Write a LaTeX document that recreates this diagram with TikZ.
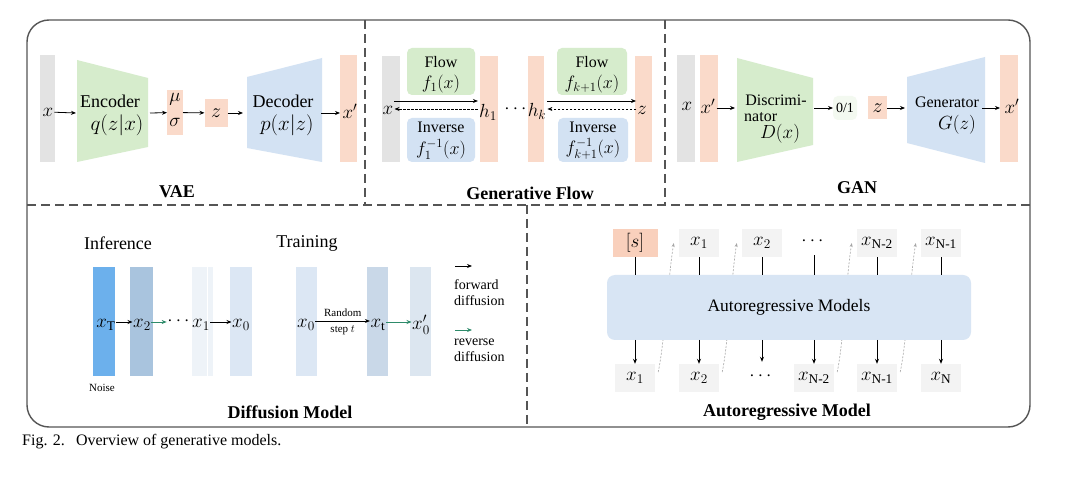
\RequirePackage{fix-cm}
\documentclass[tikz,border=0pt]{standalone}
\usepackage{amsmath}
\usepackage{fontspec}
\setmainfont{Liberation Serif}
\usetikzlibrary{arrows.meta,calc}
\newcommand\fsz[1]{\fontsize{#1}{#1}\selectfont}
\definecolor{cgray}{HTML}{E3E3E3}
\definecolor{corange}{HTML}{FADACA}
\definecolor{csorange}{HTML}{F9D0BC}
\definecolor{cgreen}{HTML}{D6ECCC}
\definecolor{cgfaint}{HTML}{F3F9F0}
\definecolor{cblue}{HTML}{D3E2F3}
\definecolor{cbox}{HTML}{D8E5F4}
\definecolor{ctok}{HTML}{F3F3F3}
\definecolor{cdT}{HTML}{6CB0EC}
\definecolor{cdtwo}{HTML}{A9C4DE}
\definecolor{cdone}{HTML}{EEF3F8}
\definecolor{cdzero}{HTML}{DCE7F4}
\definecolor{cdt}{HTML}{C9D8E8}
\definecolor{cdzp}{HTML}{DCE6F0}
\definecolor{crev}{HTML}{2E8B6A}
\definecolor{cframe}{HTML}{555555}
\begin{document}
\begin{tikzpicture}[x=1pt,y=-1pt,
  arr/.style={-{Stealth[length=5pt,width=4pt]},line width=0.8pt},
  darr/.style={arr,dashed,dash pattern=on 2.5pt off 1.5pt},
  garr/.style={arr,crev},
  barbox/.style={inner sep=0pt,outer sep=0pt,draw=none},
  rbox/.style={inner sep=0pt,outer sep=0pt,draw=none,rounded corners=5pt},
  lab/.style={inner sep=1pt,font=\fsz{19}},
  txt/.style={inner sep=0pt,font=\fsz{18}},
  stxt/.style={inner sep=0pt,font=\fsz{16}},
  ttl/.style={inner sep=1pt,font=\fsz{18}\bfseries},
  tok/.style={inner sep=0pt,minimum width=40,minimum height=28,fill=ctok,font=\fsz{19}},
  sep/.style={cframe,line width=1.3pt,dash pattern=on 9pt off 5pt},
  dcurve/.style={gray!70,line width=0.6pt,dash pattern=on 2pt off 1.5pt,-{Stealth[length=4pt,width=3pt]}}]
\useasboundingbox (0,0) rectangle (1080,486);
\fill[white] (0,0) rectangle (1080,486);

% ---------- frame ----------
\draw[sep] (27,205) -- (1030,205);
\draw[sep] (365,20) -- (365,205);
\draw[sep] (665,20) -- (665,205);
\draw[sep] (527,205) -- (527,427);
\draw[cframe,line width=1.4pt,rounded corners=22pt] (27,20) rectangle (1030,427);

% ---------- VAE ----------
\node[barbox,fill=cgray,minimum width=15,minimum height=107] (vin) at (47.5,109) {};
\node[lab] (vx) at (48,112) {$x$};
\fill[cgreen] (77,60) -- (148,78) -- (148,147) -- (77,162) -- cycle;
\coordinate (encL) at (76,113);
\coordinate (encR) at (150,113);
\node[txt] (enc) at (110,101) {Encoder};
\node[inner sep=0pt,font=\fsz{21}] (encq) at (117,125) {$q(z|x)$};
\node[barbox,fill=corange,minimum width=16,minimum height=45] (ms) at (175,112.5) {};
\node[inner sep=0pt,font=\fsz{19}] (mu) at (175,99) {$\mu$};
\node[inner sep=0pt,font=\fsz{19}] (sig) at (175,122) {$\sigma$};
\node[barbox,fill=corange,minimum width=23,minimum height=28,font=\fsz{20}] (vz) at (216,113) {$z$};
\fill[cblue] (247,77) -- (322,58) -- (322,162) -- (247,148) -- cycle;
\coordinate (decL) at (243,113);
\coordinate (decR) at (321,113);
\node[txt] (dec) at (283,101) {Decoder};
\node[inner sep=0pt,font=\fsz{21}] (decp) at (287,125) {$p(x|z)$};
\node[barbox,fill=corange,minimum width=17,minimum height=107] (vout) at (348.5,109) {};
\node[lab] (vxo) at (350,111) {$x'$};
\draw[arr] (vx) -- (encL);
\draw[arr] (encR) -- (ms);
\draw[arr] (ms) -- (vz);
\draw[arr] (vz) -- (decL);
\draw[arr] (decR) -- (decR -| vout.west);
\node[ttl] (tvae) at (177,192) {VAE};

% ---------- Generative flow ----------
\coordinate (frowa) at (0,101);
\coordinate (frowb) at (0,109);
\node[barbox,fill=cgray,minimum width=18,minimum height=106] (gin) at (391,109) {};
\node[rbox,fill=cgreen,minimum width=68,minimum height=47] (fl1) at (441,71.5) {};
\node[stxt] (fl1a) at (441,62) {Flow};
\node[inner sep=0pt,font=\fsz{18}] (fl1b) at (441,84) {$f_1(x)$};
\node[rbox,fill=cblue,minimum width=68,minimum height=44] (inv1) at (441,140) {};
\node[stxt] (inv1a) at (441,127) {Inverse};
\node[inner sep=0pt,font=\fsz{18}] (inv1b) at (441,149) {$f_1^{-1}(x)$};
\node[barbox,fill=corange,minimum width=18,minimum height=106] (o1) at (489,109) {};
\node[barbox,fill=corange,minimum width=16,minimum height=106] (o2) at (536,109) {};
\node[rbox,fill=cgreen,minimum width=70,minimum height=47] (fl2) at (592,71.5) {};
\node[stxt] (fl2a) at (592,62) {Flow};
\node[inner sep=0pt,font=\fsz{18}] (fl2b) at (592,84) {$f_{k+1}(x)$};
\node[rbox,fill=cblue,minimum width=70,minimum height=44] (inv2) at (593,140) {};
\node[stxt] (inv2a) at (593,127) {Inverse};
\node[inner sep=0pt,font=\fsz{18}] (inv2b) at (593,149) {$f_{k+1}^{-1}(x)$};
\node[barbox,fill=corange,minimum width=17,minimum height=106] (o3) at (643.5,109) {};
\node[lab] (gx) at (388,110) {$x$};
\node[lab] (h1) at (488,112) {$h_1$};
\node[lab] (gdots) at (517,109) {$\cdots$};
\node[lab] (hk) at (537,111) {$h_k$};
\node[lab] (gz) at (642,110) {$z$};
\draw[arr] (gx.east |- frowa) -- (h1.west |- frowa);
\draw[darr] (h1.west |- frowb) -- (gx.east |- frowb);
\draw[arr] (hk.east |- frowa) -- (gz.west |- frowa);
\draw[darr] (gz.west |- frowb) -- (hk.east |- frowb);
\node[ttl] (tflow) at (530,193) {Generative Flow};

% ---------- GAN ----------
\node[barbox,fill=cgray,minimum width=18,minimum height=107] (gang) at (686,109) {};
\node[barbox,fill=corange,minimum width=18,minimum height=107] (gano1) at (709,109) {};
\node[lab] (ganx) at (687,106) {$x$};
\node[lab] (ganxp) at (708,106) {$x'$};
\fill[cgreen] (737,58) -- (813,78) -- (813,145) -- (737,162) -- cycle;
\coordinate (discL) at (735,108);
\coordinate (discR) at (814,108);
\node[stxt] (disa) at (776,100) {Discrimi-};
\node[stxt,anchor=west] (disb) at (744,117) {nator};
\node[inner sep=0pt,font=\fsz{19}] (disc) at (780,134) {$D(x)$};
\node[rbox,fill=cgfaint,minimum width=24,minimum height=24,font=\fsz{14}] (g01) at (845,108) {0/1};
\node[barbox,fill=corange,minimum width=19,minimum height=23,font=\fsz{20}] (ganz) at (877.5,108) {$z$};
\fill[cblue] (907,77) -- (985,57) -- (985,163) -- (907,143) -- cycle;
\coordinate (genL) at (905,108);
\coordinate (genR) at (982,108);
\node[stxt] (gena) at (947,102) {Generator};
\node[inner sep=0pt,font=\fsz{19}] (genb) at (957,125) {$G(z)$};
\node[barbox,fill=corange,minimum width=18,minimum height=107] (gano2) at (1009,109) {};
\node[lab] (ganxo) at (1012,106) {$x'$};
\draw[arr] ([yshift=-2pt]ganxp.east) -- (discL);
\draw[arr] (discR) -- (g01.west);
\draw[arr] (ganz) -- (genL);
\draw[arr] (genR) -- (genR -| gano2.west);
\node[ttl] (tgan) at (857,188) {GAN};

% ---------- Diffusion ----------
\node[txt] (tinf) at (118,243) {Inference};
\node[txt] (ttrain) at (307,243) {Training};
\node[barbox,fill=cdT,minimum width=22,minimum height=109] (dT) at (104,321.5) {};
\node[barbox,fill=cdtwo,minimum width=23,minimum height=109] (d2) at (141.5,321.5) {};
\node[barbox,fill=cdone,minimum width=21,minimum height=109] (d1) at (202.5,321.5) {};
\fill[white] (206.5,267) rectangle (207.7,376);
\node[barbox,fill=cdzero,minimum width=22,minimum height=109] (d0) at (241,321.5) {};
\node[barbox,fill=cdzero,minimum width=21,minimum height=109] (e0) at (306.5,321.5) {};
\node[barbox,fill=cdt,minimum width=21,minimum height=109] (et) at (377.5,321.5) {};
\node[barbox,fill=cdzp,minimum width=21,minimum height=109] (ep) at (420.5,321.5) {};
\node[lab,inner sep=0.5pt] (lxT) at (106,325) {$x_\mathrm{T}$};
\node[lab,inner sep=0.5pt] (lx2) at (142,325) {$x_2$};
\node[lab,inner sep=0.5pt] (ldots) at (180,321) {$\cdots$};
\node[lab,inner sep=0.5pt] (lx1) at (201,325) {$x_1$};
\node[lab,inner sep=0.5pt] (lx0) at (241,325) {$x_0$};
\node[lab,inner sep=0.5pt] (tx0) at (306,325) {$x_0$};
\node[lab,inner sep=0.5pt] (txt) at (378,325) {$x_\mathrm{t}$};
\node[lab,inner sep=0.5pt] (tx0p) at (421,325) {$x_0'$};
\draw[arr] ([yshift=3pt]lxT.east) -- ([yshift=3pt]lx2.west);
\draw[garr] ([yshift=3pt]lx2.east) -- ([yshift=-1pt]ldots.west);
\draw[arr] ([yshift=3pt]lx1.east) -- ([yshift=3pt]lx0.west);
\draw[arr] ([yshift=4pt]tx0.east) -- ([yshift=4pt]txt.west)
   node[midway,above=1pt,font=\fsz{11}] (rnd) {Random}
   node[midway,below=1pt,font=\fsz{11}] (stp) {step $t$};
\draw[garr] ([yshift=3pt]txt.east) -- ([yshift=3pt]tx0p.west);
\coordinate (lga) at (455,266);
\coordinate (lgb) at (472,266);
\draw[arr] (lga) -- (lgb);
\node[anchor=north west,align=left,inner sep=0pt,font=\fontsize{14}{16}\selectfont] (lgt1) at (454,279) {forward\\diffusion};
\coordinate (lgc) at (455,330);
\coordinate (lgd) at (472,330);
\draw[garr] (lgc) -- (lgd);
\node[anchor=north west,align=left,inner sep=0pt,font=\fontsize{14}{16}\selectfont] (lgt2) at (454,339) {reverse\\diffusion};
\node[inner sep=0pt,font=\fsz{11}] (noise) at (102,388) {Noise};
\node[ttl] (tdiff) at (290,412) {Diffusion Model};

% ---------- Autoregressive ----------
\foreach \i/\cx in {0/635,1/699,2/762,3/814,4/877,5/941}{
  \coordinate (col\i) at (\cx,0);
}
\node[tok,fill=csorange,minimum width=45] (t0) at (635,243) {$[s]$};
\node[tok] (t1) at (699,243) {$x_1$};
\node[tok] (t2) at (762,243) {$x_2$};
\node[tok,fill=none] (t3) at (814,241) {$\cdots$};
\node[tok] (t4) at (877,243) {$x_{\text{N-2}}$};
\node[tok] (t5) at (941,243) {$x_{\text{N-1}}$};
\node[tok] (b0) at (635,378) {$x_1$};
\node[tok] (b1) at (699,378) {$x_2$};
\node[tok,fill=none] (b2) at (762,376) {$\cdots$};
\node[tok] (b3) at (814,378) {$x_{\text{N-2}}$};
\node[tok] (b4) at (877,378) {$x_{\text{N-1}}$};
\node[tok] (b5) at (941,378) {$x_\text{N}$};
\draw[dcurve] ([xshift=3pt,yshift=6pt]b0.east) .. controls +(6,-27) and +(-5,29) .. ([xshift=-5pt]t1.west);
\draw[dcurve] ([xshift=3pt,yshift=6pt]b1.east) .. controls +(6,-27) and +(-5,29) .. ([xshift=-5pt]t2.west);
\draw[dcurve] ([xshift=3pt,yshift=6pt]b3.east) .. controls +(6,-27) and +(-5,29) .. ([xshift=-5pt]t4.west);
\draw[dcurve] ([xshift=3pt,yshift=6pt]b4.east) .. controls +(6,-27) and +(-5,29) .. ([xshift=-5pt]t5.west);
\node[rbox,rounded corners=8pt,fill=cbox,minimum width=364,minimum height=65,font=\fsz{17.5}] (arm) at (789,307.5) {Autoregressive Models};
\foreach \i in {0,...,5}{
  \draw[line width=0.9pt] (col\i |- t\i.south) -- (col\i |- arm.north);
  \draw[arr] (col\i |- arm.south) -- (col\i |- b\i.north);
}
\node[ttl] (tar) at (787,412) {Autoregressive Model};

% ---------- caption ----------
\node[anchor=west,inner sep=0pt,font=\fsz{16}] (cap) at (22,442) {Fig. 2.\hspace{0.7em}Overview of generative models.};
\end{tikzpicture}
\end{document}
